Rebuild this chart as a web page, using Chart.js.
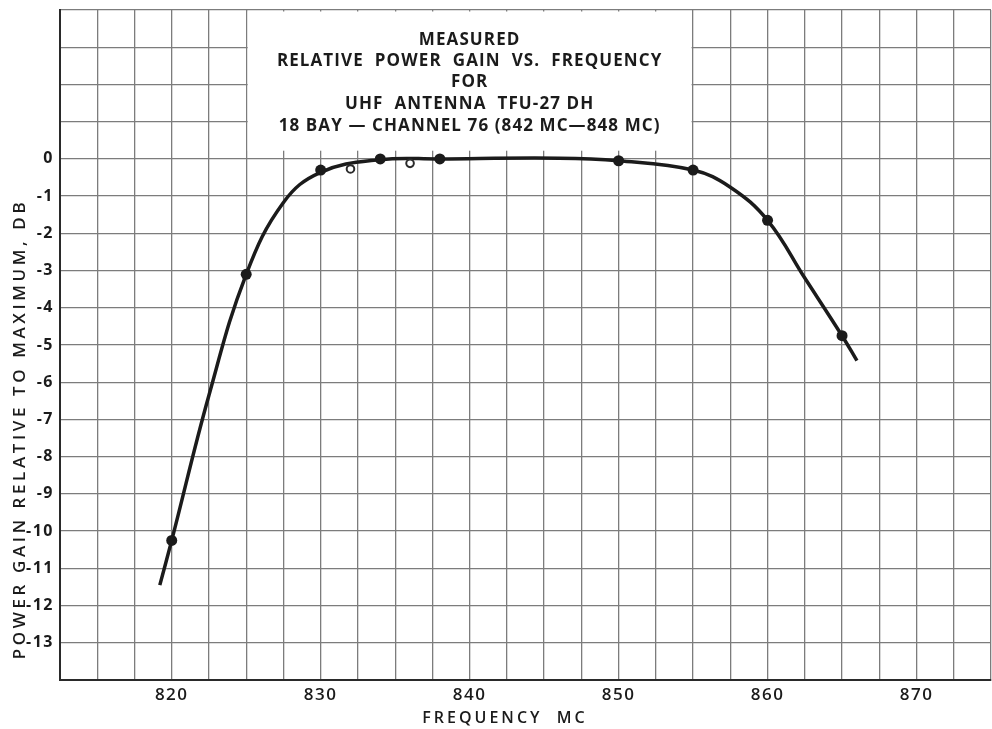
<!DOCTYPE html>
<html>
<head>
<meta charset="utf-8">
<script src="https://cdn.jsdelivr.net/npm/chart.js@4/dist/chart.umd.min.js"></script>
<style>
  html, body { margin: 0; padding: 0; background: #fff; }
  canvas { display: block; }
</style>
</head>
<body>
<canvas id="c" width="992" height="729"></canvas>
<script>
// Measured points (filled dots)
const measFreq = [820, 825, 830, 834, 838, 850, 855, 860, 865];
const measGain = [-10.25, -3.1, -0.3, 0, 0, -0.05, -0.3, -1.65, -4.75];

// Check points (open circles)
const checkFreq = [832, 836];
const checkGain = [-0.27, -0.12];

// Faired response curve
const curveFreq = [819.2, 820, 822.5, 825, 827.5, 830, 834, 838, 846, 850, 855, 857.5, 860, 862.5, 865, 866];
const curveGain = [-11.45, -10.25, -6.35, -3.1, -1.17, -0.36, -0.02, 0, 0.02, -0.05, -0.3, -0.76, -1.65, -3.2, -4.75, -5.42];

// Tick labels shown on the axes
const freqLabels = [820, 830, 840, 850, 860, 870];
const gainLabels = [0, -1, -2, -3, -4, -5, -6, -7, -8, -9, -10, -11, -12, -13];

const titleLines = [
  'MEASURED',
  'RELATIVE  POWER  GAIN  VS.  FREQUENCY',
  'FOR',
  'UHF  ANTENNA  TFU-27 DH',
  '18 BAY \u2014 CHANNEL 76 (842 MC\u2014848 MC)'
];
const xTitle = 'FREQUENCY  MC';
const yTitle = 'POWER GAIN RELATIVE TO MAXIMUM, DB';

const pts = (xs, ys) => xs.map((x, i) => ({ x, y: ys[i] }));
const INK = '#1b1b1b';
const FONT = '"Open Sans", "DejaVu Sans", sans-serif';

// Title panel and axis captions
const captions = {
  id: 'captions',
  beforeDraw(chart) {
    chart.ctx.letterSpacing = '1.5px';
  },
  beforeDatasetsDraw(chart) {
    const { ctx, scales: { x, y }, chartArea } = chart;
    const l = x.getPixelForValue(825) + 1.5;
    const r = x.getPixelForValue(855) - 1.5;
    const t = chartArea.top + 1.5;
    const b = y.getPixelForValue(0.22);
    ctx.save();
    ctx.fillStyle = '#fff';
    ctx.fillRect(l, t, r - l, b - t);
    ctx.fillStyle = INK;
    ctx.font = '700 17px ' + FONT;
    ctx.textAlign = 'center';
    ctx.textBaseline = 'middle';
    ctx.letterSpacing = '1.1px';
    const cx = (l + r) / 2;
    const rowY = [40, 61, 82, 104, 126];
    titleLines.forEach((s, i) => ctx.fillText(s, cx, rowY[i]));
    ctx.restore();
  },
  afterDraw(chart) {
    const { ctx } = chart;
    ctx.save();
    ctx.fillStyle = INK;
    ctx.font = '600 16px ' + FONT;
    ctx.textAlign = 'center';
    ctx.textBaseline = 'middle';
    ctx.letterSpacing = '3px';
    ctx.fillText(xTitle, 505, 718);
    ctx.font = '600 17px ' + FONT;
    ctx.letterSpacing = '3.6px';
    ctx.translate(20, 429);
    ctx.rotate(-Math.PI / 2);
    ctx.fillText(yTitle, 0, 0);
    ctx.restore();
  }
};

new Chart(document.getElementById('c'), {
  type: 'scatter',
  data: {
    datasets: [
      {
        label: 'measured',
        data: pts(measFreq, measGain),
        pointRadius: 5.5,
        pointBackgroundColor: INK,
        pointBorderColor: INK,
        pointBorderWidth: 0,
        showLine: false
      },
      {
        label: 'check',
        data: pts(checkFreq, checkGain),
        pointRadius: 3.8,
        pointBackgroundColor: '#fff',
        pointBorderColor: '#2a2a2a',
        pointBorderWidth: 2,
        showLine: false
      },
      {
        label: 'curve',
        data: pts(curveFreq, curveGain),
        showLine: true,
        borderColor: INK,
        borderWidth: 3.5,
        pointRadius: 0,
        tension: 0.4,
        fill: false
      }
    ]
  },
  options: {
    responsive: false,
    animation: false,
    devicePixelRatio: 1,
    layout: { autoPadding: false, padding: { top: 10, right: 1, left: 0, bottom: 0 } },
    plugins: { legend: { display: false }, tooltip: { enabled: false }, title: { display: false } },
    scales: {
      x: {
        type: 'linear',
        min: 812.5,
        max: 875,
        afterFit(s) { s.height = 49; s.paddingLeft = 0; s.paddingRight = 0; },
        grid: { color: '#7c7c7c', lineWidth: 1.3, drawTicks: false },
        border: { color: '#2a2a2a', width: 2 },
        ticks: {
          stepSize: 2.5,
          autoSkip: false,
          maxRotation: 0,
          padding: 5,
          color: INK,
          font: { family: FONT, size: 17, weight: '600' },
          callback: v => freqLabels.includes(v) ? String(v) : ''
        }
      },
      y: {
        type: 'linear',
        min: -14,
        max: 4,
        afterFit(s) { s.width = 60; s.paddingTop = 0; s.paddingBottom = 0; },
        grid: { color: '#7c7c7c', lineWidth: 1.3, drawTicks: false },
        border: { color: '#2a2a2a', width: 2 },
        ticks: {
          stepSize: 1,
          autoSkip: false,
          padding: 6,
          color: INK,
          font: { family: FONT, size: 16, weight: '700' },
          callback: v => gainLabels.includes(v) ? (v === 0 ? '0' : '-' + Math.abs(v)) : ''
        }
      }
    }
  },
  plugins: [captions]
});
</script>
</body>
</html>
